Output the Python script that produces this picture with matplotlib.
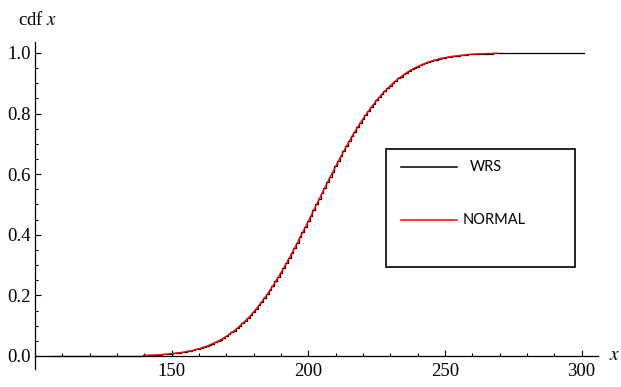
import numpy as np
import matplotlib
matplotlib.use('Agg')
import matplotlib.pyplot as plt
from matplotlib.patches import Rectangle
from matplotlib.lines import Line2D
from matplotlib.ticker import MultipleLocator

### data
# cdf values for x = 140 ... 269 (below 140 the cdf is 0, above 269 it is 1)
x_first = 140
cdf_vals = [0.002, 0.002, 0.003, 0.003, 0.003, 0.004, 0.004, 0.005, 0.006, 0.007,
            0.008, 0.009, 0.01, 0.011, 0.012, 0.014, 0.016, 0.017, 0.019, 0.022,
            0.024, 0.027, 0.03, 0.033, 0.037, 0.041, 0.045, 0.049, 0.054, 0.059,
            0.065, 0.071, 0.078, 0.084, 0.092, 0.1, 0.108, 0.117, 0.126, 0.135,
            0.146, 0.156, 0.168, 0.179, 0.192, 0.204, 0.218, 0.231, 0.246, 0.26,
            0.275, 0.291, 0.307, 0.323, 0.34, 0.357, 0.374, 0.392, 0.409, 0.427,
            0.445, 0.463, 0.482, 0.5, 0.518, 0.537, 0.555, 0.573, 0.591, 0.608,
            0.626, 0.643, 0.66, 0.677, 0.693, 0.709, 0.725, 0.74, 0.754, 0.769,
            0.782, 0.796, 0.808, 0.821, 0.832, 0.844, 0.854, 0.865, 0.874, 0.883,
            0.892, 0.9, 0.908, 0.916, 0.922, 0.929, 0.935, 0.941, 0.946, 0.951,
            0.955, 0.959, 0.963, 0.967, 0.97, 0.973, 0.976, 0.978, 0.981, 0.983,
            0.984, 0.986, 0.988, 0.989, 0.99, 0.991, 0.992, 0.993, 0.994, 0.995,
            0.996, 0.996, 0.997, 0.997, 0.997, 0.998, 0.998, 0.998, 0.999, 0.999]
wrs_min, wrs_max = 105, 301
series_names = ['WRS', 'NORMAL']

norm_x = np.arange(x_first, x_first + len(cdf_vals))
norm_y = np.array(cdf_vals)

wrs_x = np.arange(wrs_min, wrs_max + 1)
wrs_y = np.concatenate([np.zeros(x_first - wrs_min), norm_y,
                        np.ones(wrs_max - norm_x[-1])])

### figure
fig = plt.figure(figsize=(6.21, 3.87), dpi=100)
ax = fig.add_axes([0.0564, 0.0465, 0.9066, 0.8450])

ax.step(wrs_x, wrs_y, where='mid', color='black', lw=0.9, zorder=3)
ax.plot(norm_x, norm_y, color='red', lw=1.0, zorder=4)

ax.set_xlim(100, 306)
ax.set_ylim(-0.043, 1.036)

ax.spines['top'].set_visible(False)
ax.spines['right'].set_visible(False)
ax.spines['bottom'].set_position(('data', 0))
for s in ('left', 'bottom'):
    ax.spines[s].set_linewidth(0.9)

ax.xaxis.set_minor_locator(MultipleLocator(10))
ax.yaxis.set_minor_locator(MultipleLocator(0.05))
ax.set_xticks([150, 200, 250, 300])
ax.set_yticks([0.0, 0.2, 0.4, 0.6, 0.8, 1.0])
ax.set_yticklabels(['0.0', '0.2', '0.4', '0.6', '0.8', '1.0'])

serif = 'Liberation Serif'
ax.tick_params(which='both', direction='in', width=0.8)
ax.tick_params(which='major', length=4.5)
ax.tick_params(which='minor', length=2.5)
ax.tick_params(axis='x', which='major', pad=5)
ax.tick_params(axis='y', which='major', pad=3)
for lab in ax.get_xticklabels() + ax.get_yticklabels():
    lab.set_fontfamily(serif)
    lab.set_fontsize(13.5)

plt.rcParams['mathtext.fontset'] = 'stix'
fig.text(18 / 621, 1 - 20 / 387, r'cdf $x$', family=serif, fontsize=13.5,
         ha='left', va='center')
fig.text(615 / 621, 1 - 355 / 387, r'$x$', fontsize=14, ha='center', va='center')

### legend box
px = lambda x, y: (x / 621, 1 - y / 387)
fig.add_artist(Rectangle(px(386, 267), 189 / 621, 118 / 387, transform=fig.transFigure,
                         fill=False, edgecolor='black', lw=1.2))
for (ly, col, name, tx) in [(167, 'black', series_names[0], 470),
                            (220, 'red', series_names[1], 463)]:
    x0, y0 = px(401, ly)
    x1, _ = px(457, ly)
    fig.add_artist(Line2D([x0, x1], [y0, y0], transform=fig.transFigure, color=col, lw=1.1))
    fig.text(*px(tx, ly), name, family='Lato', fontsize=10.5, ha='left', va='center')

fig.savefig('out.png', dpi=100)
